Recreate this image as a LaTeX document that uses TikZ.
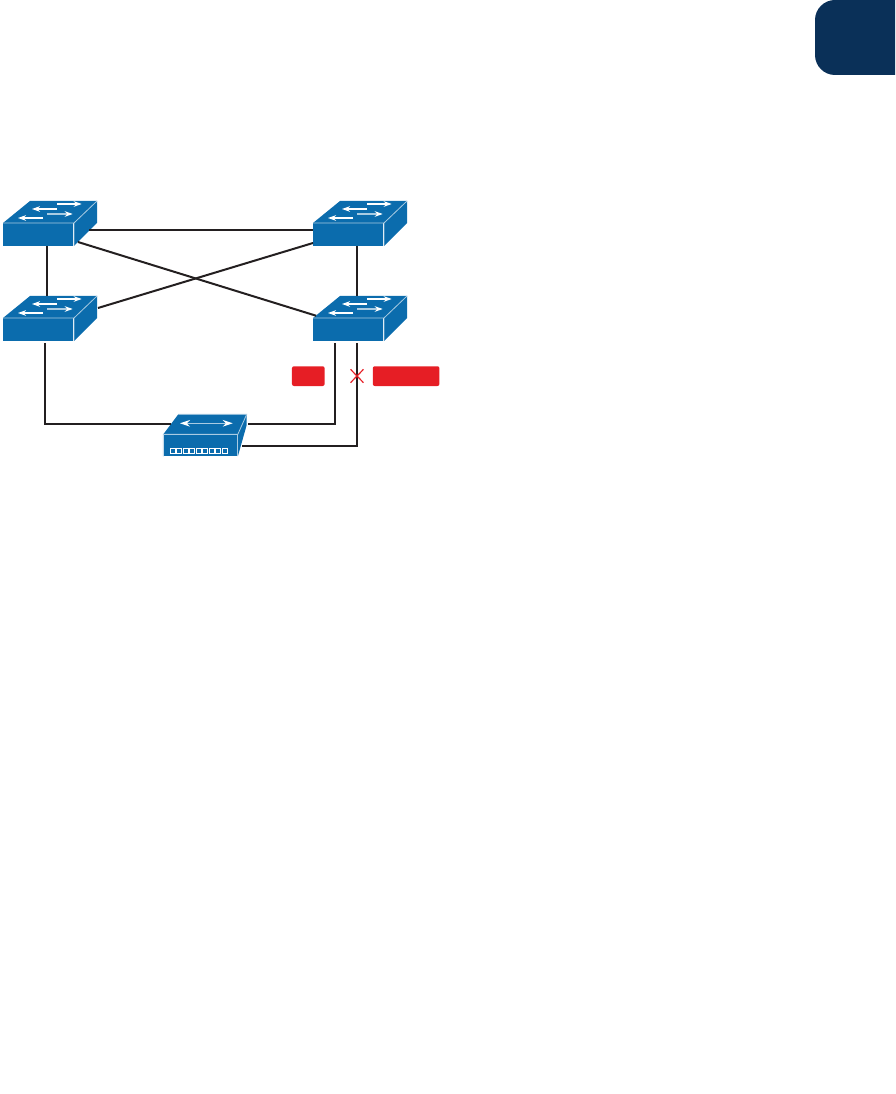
\documentclass[tikz,border=0pt]{standalone}
\usepackage{tikz}
\usetikzlibrary{arrows.meta, positioning, calc}
\definecolor{swblue}{HTML}{0B6CAD}
\definecolor{swedge}{HTML}{A9CBE2}
\definecolor{tabblue}{HTML}{0A3058}
\definecolor{wirecol}{HTML}{231F20}
\definecolor{alertred}{HTML}{E61E25}

\tikzset{
  wire/.style={draw=wirecol, line width=1.5pt},
  flow/.style={draw=white, line width=0.85pt, -{Stealth[length=6pt,width=4.2pt,color=white]}},
  alertbox/.style={fill=alertred, rounded corners=1.5pt, inner sep=0pt, minimum height=14.8pt},
  switch/.pic={
    \node[fill=swblue, inner sep=0pt, minimum width=52.5pt, minimum height=17pt, anchor=north west] (-front) at (0,0) {};
    \fill[swblue] (0,0) -- (27,-22) -- (94,-22) -- (71,0) -- cycle;
    \fill[swblue] (71,0) -- (94,-22) -- (94,0) -- (71,23) -- cycle;
    \draw[swedge, line width=0.6pt] (0,0) -- (71,0) -- (94,-22) (71,0) -- (71,23);
    \draw[flow] (54,-19) -- (78.7,-19);
    \draw[flow] (54,-14) -- (29,-14);
    \draw[flow, draw=swedge] (44,-9) -- (69.7,-9);
    \draw[flow] (40,-5) -- (15,-5);
    % ports for the wires
    \coordinate (-n) at (44,-22);
    \coordinate (-w) at (0,7);
    \coordinate (-e) at (86,7);
    \coordinate (-nw) at (3,-2.3);
    \coordinate (-sw) at (0,20);
    \coordinate (-ne) at (95,-10);
    \coordinate (-se) at (75,19);
    \coordinate (-sa) at (22,25);
    \coordinate (-sb) at (44,25);
    \coordinate (-sc) at (42,25);
  }
}

\begin{document}
\begin{tikzpicture}[x=0.75pt, y=-0.75pt]
  \useasboundingbox (0,0) rectangle (895,1094);

  % corner tab
  \fill[tabblue] (895,0) [rounded corners=15pt] -- (815,0) -- (815,75) [sharp corners] -- (895,75) -- cycle;

  % switches
  \pic (swa) at (3,223) {switch};
  \pic (swb) at (313,223) {switch};
  \pic (swc) at (3,318) {switch};
  \pic (swd) at (313,318) {switch};

  % hub
  \node[fill=swblue, inner sep=0pt, minimum width=55.5pt, minimum height=16.2pt, anchor=north west] (hub) at (163.3,434.3) {};
  \fill[swblue] (hub.north west) -- (178.3,414.3) -- (246.7,414.3) -- (hub.north east) -- cycle;
  \fill[swblue] (hub.north east) -- (246.7,414.3) -- (246.7,425) -- (hub.south east) -- cycle;
  \draw[swedge, line width=0.6pt] (hub.south west) -- (hub.north west) -- (hub.north east) -- (246.7,414.3) -- (178.3,414.3);
  \draw[swedge, line width=0.6pt] (hub.north east) -- (hub.south east);
  \draw[swedge, line width=0.8pt, {Stealth[length=7.5pt,width=5pt,color=white]}-{Stealth[length=7.5pt,width=5pt,color=white]}] (180,423.3) -- (232.7,423.3);
  \foreach \i in {0,...,8}
    \draw[white, line width=0.6pt] ({170.2+6.5*\i},448.4) rectangle +(5,5);

  \coordinate (hubw) at (170.7,424);
  \coordinate (hube) at (248.3,424);
  \coordinate (hubs) at (241.7,446);

  % wires
  \draw[wire] (swa-e) -- (swb-w);
  \draw[wire] (swa-n |- swa-front.south) -- (swc-n);
  \draw[wire] (swb-n |- swb-front.south) -- (swd-n);
  \draw[wire] (swa-se) -- (swd-nw);
  \draw[wire] (swc-ne) -- (swb-sw);
  \draw[wire] (swc-sc) |- (hubw);
  \draw[wire] (swd-sa) |- (hube);
  \draw[wire] (swd-sb) |- (hubs);

  % failed link
  \node[alertbox, minimum width=24.5pt, anchor=north west] (lblport) at (291.7,366) {};
  \node[alertbox, minimum width=50pt, anchor=north west] (lblstate) at (372.5,366) {};
  \draw[alertred, line width=0.9pt] (350.5,369.3) -- (363.5,382.7) (350.5,382.7) -- (363.5,369.3);
\end{tikzpicture}
\end{document}
